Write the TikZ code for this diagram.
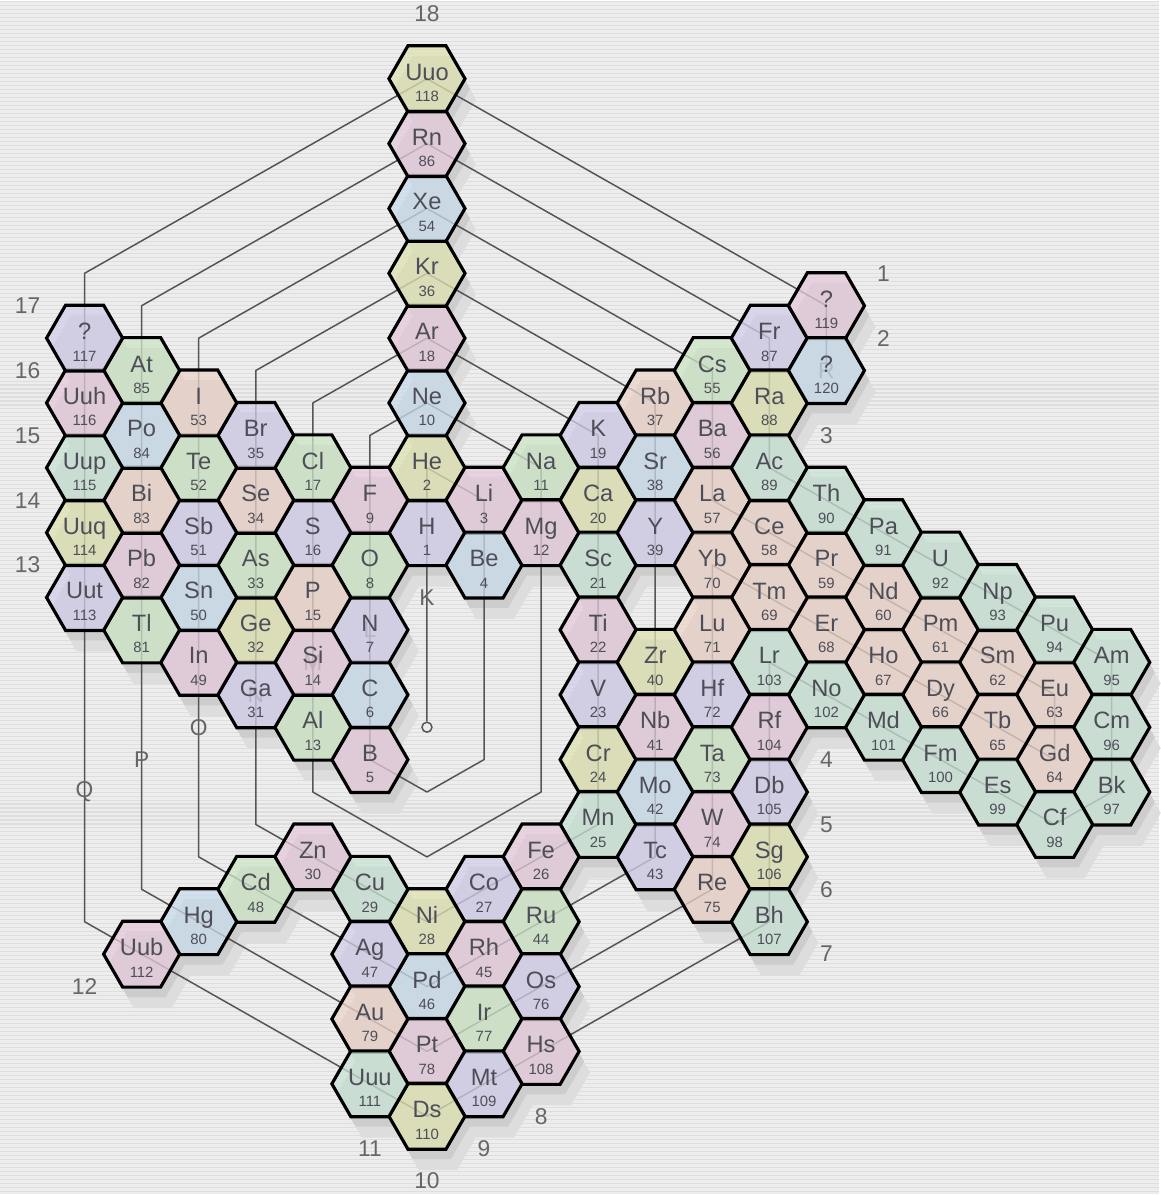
\documentclass[tikz,border=0pt]{standalone}
\usepackage{fontspec}
\setmainfont{Liberation Sans}
\usetikzlibrary{shapes.geometric}

\definecolor{bgc}{HTML}{EDEDED}
\definecolor{stripec}{HTML}{DEDEDE}
\definecolor{shadowa}{HTML}{CDCDCD}
\definecolor{shadowb}{HTML}{DDDDDD}
\definecolor{linec}{HTML}{555555}
\definecolor{symc}{HTML}{4E4E58}
\definecolor{grpc}{HTML}{666666}
\definecolor{cellY}{HTML}{DFE3B2}
\definecolor{cellP}{HTML}{E6CADB}
\definecolor{cellB}{HTML}{CADCEC}
\definecolor{cellV}{HTML}{D3CEEA}
\definecolor{cellG}{HTML}{CDE7C6}
\definecolor{cellS}{HTML}{ECD5CA}
\definecolor{cellM}{HTML}{C8E3D6}

% column/row/symbol/number/colour on the hex grid
\newcommand\hexcells{%
0/1/H/1/cellV, 0/0/He/2/cellY,
1/1/Li/3/cellP, 1/2/Be/4/cellB, -1/4/B/5/cellP, -1/3/C/6/cellB, -1/2/N/7/cellV, -1/1/O/8/cellG, -1/0/F/9/cellP, 0/-1/Ne/10/cellB,
2/1/Na/11/cellG, 2/2/Mg/12/cellP, -2/3/Al/13/cellG, -2/2/Si/14/cellP, -2/1/P/15/cellS, -2/0/S/16/cellV, -2/-1/Cl/17/cellG, 0/-2/Ar/18/cellP,
3/1/K/19/cellV, 3/2/Ca/20/cellY, 3/3/Sc/21/cellM, 3/4/Ti/22/cellP, 3/5/V/23/cellV, 3/6/Cr/24/cellY, 3/7/Mn/25/cellM, 2/7/Fe/26/cellP, 1/7/Co/27/cellV, 0/7/Ni/28/cellY, -1/6/Cu/29/cellM, -2/5/Zn/30/cellP, -3/2/Ga/31/cellV, -3/1/Ge/32/cellY, -3/0/As/33/cellG, -3/-1/Se/34/cellS, -3/-2/Br/35/cellV, 0/-3/Kr/36/cellY,
4/1/Rb/37/cellS, 4/2/Sr/38/cellB, 4/3/Y/39/cellV, 4/5/Zr/40/cellY, 4/6/Nb/41/cellP, 4/7/Mo/42/cellB, 4/8/Tc/43/cellV, 2/8/Ru/44/cellG, 1/8/Rh/45/cellP, 0/8/Pd/46/cellB, -1/7/Ag/47/cellV, -3/5/Cd/48/cellG, -4/1/In/49/cellP, -4/0/Sn/50/cellB, -4/-1/Sb/51/cellV, -4/-2/Te/52/cellG, -4/-3/I/53/cellS, 0/-4/Xe/54/cellB,
5/1/Cs/55/cellG, 5/2/Ba/56/cellP, 5/3/La/57/cellS, 6/4/Ce/58/cellS, 7/5/Pr/59/cellS, 8/6/Nd/60/cellS, 9/7/Pm/61/cellS, 10/8/Sm/62/cellS, 11/9/Eu/63/cellS, 11/10/Gd/64/cellS, 10/9/Tb/65/cellS, 9/8/Dy/66/cellS, 8/7/Ho/67/cellS, 7/6/Er/68/cellS, 6/5/Tm/69/cellS, 5/4/Yb/70/cellS, 5/5/Lu/71/cellS, 5/6/Hf/72/cellV, 5/7/Ta/73/cellG, 5/8/W/74/cellP, 5/9/Re/75/cellS, 2/9/Os/76/cellV, 1/9/Ir/77/cellG, 0/9/Pt/78/cellP, -1/8/Au/79/cellS, -4/5/Hg/80/cellB, -5/0/Tl/81/cellG, -5/-1/Pb/82/cellP, -5/-2/Bi/83/cellS, -5/-3/Po/84/cellB, -5/-4/At/85/cellG, 0/-5/Rn/86/cellP,
6/1/Fr/87/cellV, 6/2/Ra/88/cellY, 6/3/Ac/89/cellM, 7/4/Th/90/cellM, 8/5/Pa/91/cellM, 9/6/U/92/cellM, 10/7/Np/93/cellM, 11/8/Pu/94/cellM, 12/9/Am/95/cellM, 12/10/Cm/96/cellM, 12/11/Bk/97/cellM, 11/11/Cf/98/cellM, 10/10/Es/99/cellM, 9/9/Fm/100/cellM, 8/8/Md/101/cellM, 7/7/No/102/cellM, 6/6/Lr/103/cellM, 6/7/Rf/104/cellP, 6/8/Db/105/cellV, 6/9/Sg/106/cellY, 6/10/Bh/107/cellM, 2/10/Hs/108/cellP, 1/10/Mt/109/cellV, 0/10/Ds/110/cellY, -1/9/Uuu/111/cellM, -5/5/Uub/112/cellP, -6/-1/Uut/113/cellV, -6/-2/Uuq/114/cellY, -6/-3/Uup/115/cellM, -6/-4/Uuh/116/cellP, -6/-5/?/117/cellV, 0/-6/Uuo/118/cellY,
7/1/?/119/cellP, 7/2/?/120/cellB}

\begin{document}
\begin{tikzpicture}[x={(1.144cm,0.65cm)},y={(0cm,-1.3cm)},
  hexcell/.style={regular polygon,regular polygon sides=6,minimum size=1.525cm,inner sep=0pt},
  sym/.style={anchor=base,inner sep=0pt,text=symc,font=\fontsize{13.5}{16}\selectfont},
  num/.style={anchor=base,inner sep=0pt,text=symc,font=\fontsize{8.5}{10}\selectfont},
  grp/.style={text=grpc,font=\fontsize{13}{15}\selectfont},
  shell/.style={text=grpc,font=\fontsize{13}{15}\selectfont},
  seq/.style={draw=linec,line width=0.85pt,line join=round}]
  % background
  \begin{scope}[x=1cm,y=1cm]
    \useasboundingbox (-8.56,-14.56) rectangle (14.68,9.34);
    \fill[bgc] (-8.56,-14.56) rectangle (14.68,9.34);
    \foreach \i in {0,...,298}
      \draw[stripec,line width=0.6pt] (-8.56,{9.34-\i*0.08}) -- (14.68,{9.34-\i*0.08});
  \end{scope}
  % shadows
  \foreach \hx/\hk/\hs/\hn/\hc in \hexcells {
    \coordinate (e\hn) at (\hx,\hk);
    \node[hexcell,fill=shadowb] (b\hn) at ([shift={(0.22cm,-0.42cm)}]e\hn) {};
  }
  \foreach \hx/\hk/\hs/\hn/\hc in \hexcells
    \node[hexcell,fill=shadowa] (a\hn) at ([shift={(0.1cm,-0.2cm)}]e\hn) {};
  % period 1
  \node[circle,draw=linec,fill=bgc,inner sep=0pt,minimum size=0.2cm,line width=0.85pt] (k0) at (0,4) {};
  \draw[seq] (k0) -- (e1) -- (e2) -- (e3);
  % period 2
  \coordinate (p2a) at (1,5); \coordinate (p2b) at (0,5); \coordinate (p2c) at (-1,-1);
  \draw[seq] (e3) -- (e4) -- (p2a) -- (p2b) -- (e5) -- (p2c) -- (e10) -- (e11);
  % period 3
  \coordinate (p3a) at (2,6); \coordinate (p3b) at (0,6); \coordinate (p3c) at (-2,4); \coordinate (p3d) at (-2,-2);
  \draw[seq] (e11) -- (e12) -- (p3a) -- (p3b) -- (p3c) -- (p3d) -- (e18) -- (e19);
  % period 4
  \coordinate (p4a) at (-3,4); \coordinate (p4b) at (-3,-3);
  \draw[seq] (e19) -- (e25) -- (e28) -- (e30) -- (p4a) -- (p4b) -- (e36) -- (e37);
  % period 5
  \coordinate (p5a) at (-4,4); \coordinate (p5b) at (-4,-4);
  \draw[seq] (e37) -- (e43) -- (e46) -- (e48) -- (p5a) -- (p5b) -- (e54) -- (e55);
  % period 6
  \coordinate (p6a) at (-5,4); \coordinate (p6b) at (-5,-5);
  \draw[seq] (e55) -- (e57) -- (e63) -- (e64) -- (e70) -- (e75) -- (e78) -- (e80) -- (p6a) -- (p6b) -- (e86) -- (e87);
  % period 7
  \coordinate (p7a) at (-6,4); \coordinate (p7b) at (-6,-6);
  \draw[seq] (e87) -- (e89) -- (e95) -- (e97) -- (e98) -- (e103) -- (e107) -- (e110) -- (e112) -- (p7a) -- (p7b) -- (e118) -- (e119) -- (e120);
  % shells
  \foreach \shx/\shl in {0/K,-1/L,-2/M,-3/N,-4/O,-5/P,-6/Q,7/R}
    \node[shell] (l\shl) at (\shx,2) {\shl};
  % cells
  \foreach \hx/\hk/\hs/\hn/\hc in \hexcells {
    \node[hexcell,fill=\hc,fill opacity=0.75,draw=black,line width=1.8pt] (h\hn) at (e\hn) {};
    \node[sym] (s\hn) at ([yshift=-0.03cm]e\hn) {\hs};
    \node[num] (n\hn) at ([yshift=-0.46cm]e\hn) {\hn};
  }
  % groups
  \foreach \gx/\gk/\gn in {0/-7/18,-7/-6/17,-7/-5/16,-7/-4/15,-7/-3/14,-7/-2/13,8/1/1,8/2/2,7/3/3,7/8/4,7/9/5,7/10/6,7/11/7,2/11/8,1/11/9,0/11/10,-1/10/11,-6/5/12}
    \node[grp] (g\gn) at (\gx,\gk) {\gn};
\end{tikzpicture}
\end{document}
